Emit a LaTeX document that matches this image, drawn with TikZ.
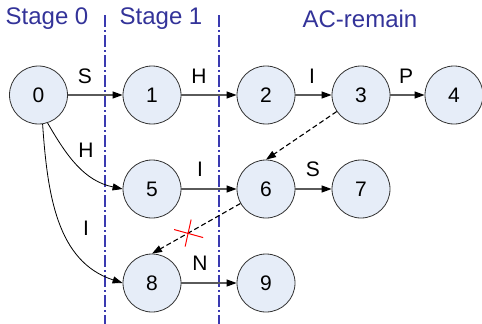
\documentclass[tikz,border=0pt]{standalone}
\usepackage{fontspec}
\setmainfont{Liberation Sans}
\usetikzlibrary{arrows.meta}
\definecolor{nodefill}{HTML}{E6EDF8}
\definecolor{stageblue}{HTML}{333399}
\definecolor{divider}{HTML}{3A3AB0}
\definecolor{edgegray}{HTML}{5A5A5A}
\begin{document}
\begin{tikzpicture}[x=1pt,y=-1pt,
  state/.style={circle,draw=black!80,line width=0.8pt,fill=nodefill,
    minimum size=58pt,inner sep=0pt,font=\fontsize{21}{21}\selectfont},
  elabel/.style={font=\fontsize{21}{21}\selectfont,inner sep=0pt},
  stagelabel/.style={font=\fontsize{24}{24}\selectfont,text=stageblue,inner sep=0pt},
  tip/.style={-{Triangle[length=10pt,width=7pt,color=black]}},
  trans/.style={draw=edgegray,line width=1.1pt,tip},
  curvetrans/.style={draw=black,line width=0.8pt,tip},
  link/.style={draw=black,line width=1.1pt,dash pattern=on 5pt off 3pt,tip},
  boundary/.style={draw=divider,line width=1.2pt,dash pattern=on 12pt off 3pt on 1.5pt off 3.5pt}]
\useasboundingbox (0,0) rectangle (482,324);

% stage boundaries
\coordinate (b1top) at (105,15);
\coordinate (b1bot) at (105,324);
\coordinate (b2top) at (219,15);
\coordinate (b2bot) at (219,324);
\draw[boundary] (b1top) -- (b1bot);
\draw[boundary] (b2top) -- (b2bot);

% stage titles
\node[stagelabel] (t0) at (47,19) {Stage 0};
\node[stagelabel] (t1) at (161,19) {Stage 1};
\node[stagelabel] (t2) at (360,19) {AC-remain};

% states
\node[state] (n0) at (38.5,95) {0};
\node[state] (n1) at (152,95) {1};
\node[state] (n2) at (266,95) {2};
\node[state] (n3) at (361,95) {3};
\node[state] (n4) at (454,95) {4};
\node[state] (n5) at (152,189) {5};
\node[state] (n6) at (266,189) {6};
\node[state] (n7) at (361,189) {7};
\node[state] (n8) at (152,283) {8};
\node[state] (n9) at (266,283) {9};

% goto transitions
\draw[trans] (n0) -- (n1);
\draw[trans] (n1) -- (n2);
\draw[trans] (n2) -- (n3);
\draw[trans] (n3) -- (n4);
\draw[trans] (n5) -- (n6);
\draw[trans] (n6) -- (n7);
\draw[trans] (n8) -- (n9);
\draw[curvetrans] (n0.-72) to[out=-60,in=168] (n5.west);
\draw[curvetrans] (n0.-82) to[out=-86,in=162] (n8.west);

% transition labels
\node[elabel] (lS1) at (85,76) {S};
\node[elabel] (lH1) at (199,76) {H};
\node[elabel] (lI1) at (312,76) {I};
\node[elabel] (lP1) at (406,76) {P};
\node[elabel] (lH2) at (86,150) {H};
\node[elabel] (lI2) at (200,169) {I};
\node[elabel] (lS2) at (313,169) {S};
\node[elabel] (lI3) at (86,228) {I};
\node[elabel] (lN3) at (200,263) {N};

% failure links
\draw[link] (n3) -- (n6.north);
\draw[link] (n6) -- (n8.north) coordinate[pos=0.58] (cut);

% removed link mark
\draw[red,line width=1pt] ([shift={(-15,-3)}]cut) -- ([shift={(14,5)}]cut);
\draw[red,line width=1pt] ([shift={(2,-13)}]cut) -- ([shift={(-4,14)}]cut);
\end{tikzpicture}
\end{document}
